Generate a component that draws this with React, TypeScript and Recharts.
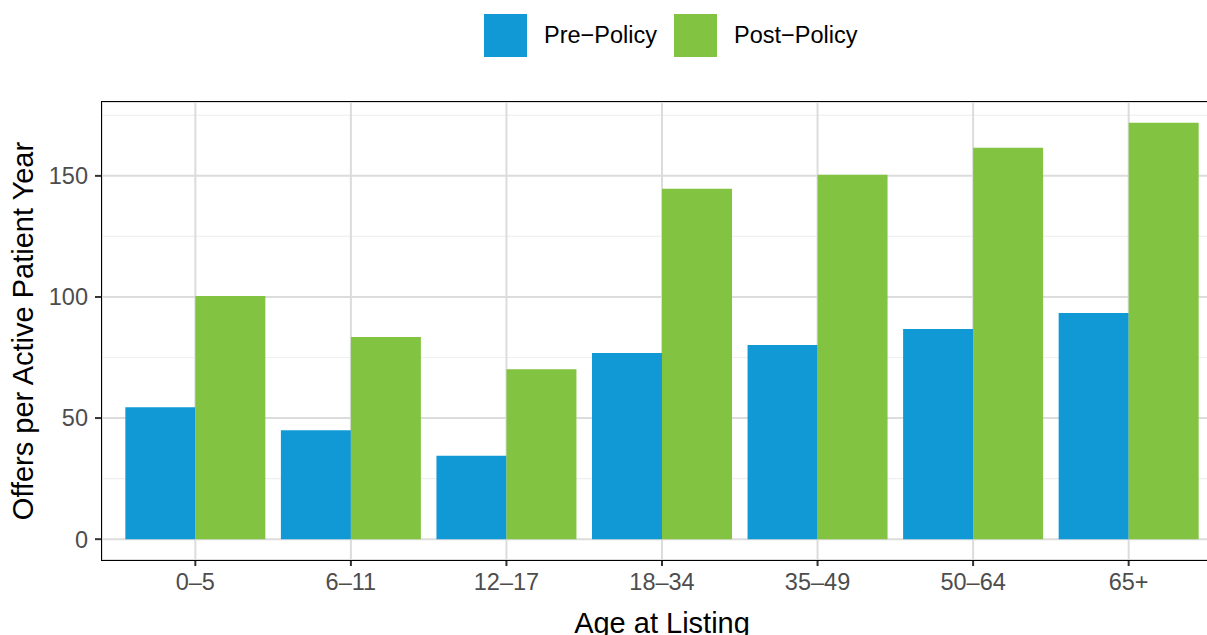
import React from 'react';
import { BarChart, Bar, XAxis, YAxis, CartesianGrid } from 'recharts';

const categories = ['0–5', '6–11', '12–17', '18–34', '35–49', '50–64', '65+'];
const prePolicy = [54.5, 45.0, 34.4, 76.9, 80.2, 86.8, 93.4];
const postPolicy = [100.4, 83.5, 70.2, 144.7, 150.5, 161.6, 171.9];
const yTicks = [0, 50, 100, 150];
const yMinorTicks = [25, 75, 125, 175];
const yDomain: [number, number] = [-8.6, 180.5];
const seriesKeys = ['pre', 'post'];
const seriesNames = ['Pre−Policy', 'Post−Policy'];
const seriesColors = ['#1199d6', '#82c342'];
const xTitle = 'Age at Listing';
const yTitle = 'Offers per Active Patient Year';

const data = categories.map((c, i) => ({ age: c, pre: prePolicy[i], post: postPolicy[i] }));

const FONT = '"Liberation Sans", Arial, Helvetica, sans-serif';

export default function App() {
  return (
    <div
      style={{
        position: 'absolute',
        left: 0,
        top: 0,
        width: 1207,
        height: 635,
        overflow: 'hidden',
        background: '#fff',
        fontFamily: FONT,
      }}
    >
      <BarChart
        width={1240}
        height={635}
        data={data}
        margin={{ top: 102, right: 18, bottom: 0, left: 0 }}
        barCategoryGap="5%"
        barGap={0}
      >
        <CartesianGrid yAxisId="minor" vertical={false} stroke="#f0f0f0" strokeWidth={1.2} />
        <CartesianGrid yAxisId="main" stroke="#dcdcdc" strokeWidth={2} />
        <XAxis
          dataKey="age"
          type="category"
          padding={{ left: 15.56, right: 15.56 }}
          height={75}
          axisLine={false}
          tickSize={6}
          tickMargin={7}
          tickLine={{ stroke: '#333333', strokeWidth: 2 }}
          tick={{ fill: '#4d4d4d', fontSize: 23.5, fontFamily: FONT }}
          interval={0}
          label={{
            value: xTitle,
            position: 'insideBottom',
            offset: 2.5,
            fontSize: 29,
            fill: '#000',
            fontFamily: FONT,
          }}
        />
        <YAxis
          yAxisId="main"
          type="number"
          domain={yDomain}
          allowDataOverflow
          ticks={yTicks}
          width={102}
          axisLine={false}
          tickSize={7}
          tickMargin={7}
          tickLine={{ stroke: '#333333', strokeWidth: 2 }}
          tick={{ fill: '#4d4d4d', fontSize: 23.5, fontFamily: FONT }}
          label={{
            value: yTitle,
            angle: -90,
            position: 'center',
            dx: -28,
            fontSize: 29,
            fill: '#000',
            fontFamily: FONT,
          }}
        />
        <YAxis
          yAxisId="minor"
          type="number"
          domain={yDomain}
          allowDataOverflow
          ticks={yMinorTicks}
          hide
        />
        {seriesKeys.map((k, i) => (
          <Bar
            key={k}
            yAxisId="main"
            dataKey={k}
            name={seriesNames[i]}
            fill={seriesColors[i]}
            isAnimationActive={false}
          />
        ))}
      </BarChart>
      <div
        style={{
          position: 'absolute',
          left: 101.25,
          top: 101.25,
          width: 1200,
          height: 459.5,
          boxSizing: 'border-box',
          border: '1.5px solid #000',
          pointerEvents: 'none',
        }}
      />
      <div
        style={{
          position: 'absolute',
          left: 484,
          top: 14,
          height: 43,
          display: 'flex',
          alignItems: 'center',
          fontSize: 23.5,
          color: '#000',
          lineHeight: 1,
          whiteSpace: 'nowrap',
        }}
      >
        {seriesNames.map((n, i) => (
          <div key={n} style={{ display: 'flex', alignItems: 'center', marginRight: 17 }}>
            <div style={{ width: 43, height: 43, background: seriesColors[i] }} />
            <span style={{ marginLeft: 17 }}>{n}</span>
          </div>
        ))}
      </div>
    </div>
  );
}
